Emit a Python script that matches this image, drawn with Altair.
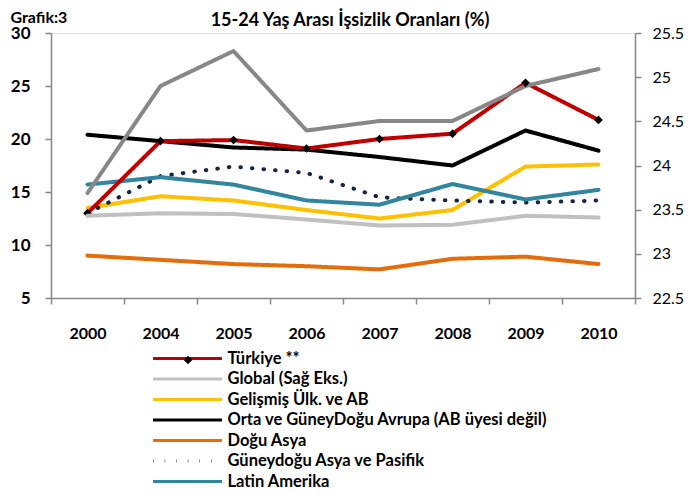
import altair as alt
import pandas as pd

years = ["2000", "2004", "2005", "2006", "2007", "2008", "2009", "2010"]

series_names = [
    "Türkiye **",
    "Global (Sağ Eks.)",
    "Gelişmiş Ülk. ve AB",
    "Orta ve GüneyDoğu Avrupa (AB üyesi değil)",
    "Doğu Asya",
    "Güneydoğu Asya ve Pasifik",
    "Latin Amerika",
    "Orta Doğu",
]
series_colors = ["#C00000", "#C0C0C0", "#FFC000", "#000000", "#E46C0A",
                 "#17243F", "#31859C", "#878787"]

turkiye = [13.0, 19.8, 19.9, 19.1, 20.0, 20.5, 25.3, 21.8]
global_right = [23.43, 23.46, 23.45, 23.39, 23.32, 23.33, 23.43, 23.41]
gelismis = [13.5, 14.6, 14.2, 13.3, 12.5, 13.3, 17.4, 17.6]
orta_avrupa = [20.4, 19.8, 19.2, 19.0, 18.3, 17.5, 20.8, 18.9]
dogu_asya = [9.0, 8.6, 8.2, 8.0, 7.7, 8.7, 8.9, 8.2]
guneydogu = [13.0, 16.5, 17.4, 16.8, 14.5, 14.2, 14.0, 14.2]
latin = [15.7, 16.4, 15.7, 14.2, 13.8, 15.75, 14.3, 15.2]
orta_dogu = [14.9, 25.0, 28.3, 20.8, 21.7, 21.7, 25.0, 26.6]

left_values = {
    "Gelişmiş Ülk. ve AB": gelismis,
    "Orta ve GüneyDoğu Avrupa (AB üyesi değil)": orta_avrupa,
    "Doğu Asya": dogu_asya,
    "Güneydoğu Asya ve Pasifik": guneydogu,
    "Latin Amerika": latin,
    "Türkiye **": turkiye,
    "Orta Doğu": orta_dogu,
}

rows = []
for order, (name, vals) in enumerate(left_values.items()):
    for y, v in zip(years, vals):
        rows.append({"year": y, "series": name, "value": v, "ord": order})
left_df = pd.DataFrame(rows)
right_df = pd.DataFrame({"year": years, "series": series_names[1], "value": global_right})
tr_df = pd.DataFrame({"year": years, "series": "Türkiye **", "value": turkiye})

FONT = "Lato"
AXIS_GRAY = "#868686"

dash_range = [[1, 0] if n != "Güneydoğu Asya ve Pasifik" else [0.5, 11.1] for n in series_names]

legend_common = dict(
    title=None, orient="none", legendX=128, legendY=317, direction="vertical",
    values=series_names[:7], symbolType="M-5,0H5", symbolSize=190,
    symbolStrokeWidth=3, padding=0, rowPadding=3.5, labelOffset=31.5,
    labelFont=FONT, labelFontSize=16.5, labelFontWeight="bold", labelColor="black",
    labelLimit=500,
)

x_scale = alt.Scale(type="band", paddingInner=0, paddingOuter=0)

x_enc = alt.X(
    "year:N",
    sort=years,
    scale=x_scale,
    axis=alt.Axis(
        title=None, labelAngle=0, tickBand="extent", tickSize=6,
        tickColor=AXIS_GRAY, domainColor=AXIS_GRAY, domainWidth=1.5, tickWidth=1.5,
        labelFont=FONT, labelFontSize=16, labelFontWeight="bold", labelColor="black",
        labelPadding=21,
    ),
)

color_enc = alt.Color(
    "series:N",
    scale=alt.Scale(domain=series_names, range=series_colors),
    legend=alt.Legend(**legend_common),
)

left_scale = alt.Scale(domain=[5, 30], nice=False, zero=False)

left_lines = alt.Chart(left_df).mark_line(strokeWidth=4, strokeCap="round", strokeJoin="round").encode(
    x=x_enc,
    y=alt.Y(
        "value:Q",
        scale=left_scale,
        axis=alt.Axis(
            orient="left", values=[5, 10, 15, 20, 25, 30], grid=False, tickSize=6, tickColor=AXIS_GRAY,
            domainColor=AXIS_GRAY, domainWidth=1.5, tickWidth=1.5,
            labelFont=FONT, labelFontSize=17, labelFontWeight="bold", labelColor="black",
            labelPadding=15,
            title="Grafik:3", titleAngle=0, titleAlign="left", titleBaseline="alphabetic",
            titleX=-41, titleY=-11, titleFont=FONT, titleFontSize=16, titleFontWeight="bold",
            titleColor="black",
        ),
    ),
    color=color_enc,
    strokeDash=alt.StrokeDash("series:N", scale=alt.Scale(domain=series_names, range=dash_range),
                              legend=alt.Legend(**legend_common)),
    order=alt.Order("ord:Q"),
)

tr_points = alt.Chart(tr_df).mark_point(filled=True, color="black", size=75, opacity=1).encode(
    x=alt.X("year:N", sort=years, scale=x_scale),
    y=alt.Y("value:Q", scale=left_scale),
    shape=alt.Shape(
        "series:N",
        scale=alt.Scale(domain=["Türkiye **"], range=["diamond"]),
        legend=alt.Legend(
            title=None, orient="none", legendX=130, legendY=320, padding=0,
            symbolSize=75, symbolFillColor="black", symbolStrokeColor="black",
            labelExpr="''", labelFontSize=14,
        ),
    ),
)

left = alt.layer(left_lines, tr_points)

right_line = alt.Chart(right_df).mark_line(strokeWidth=4, strokeCap="round", strokeJoin="round").encode(
    x=alt.X("year:N", sort=years, scale=x_scale),
    y=alt.Y(
        "value:Q",
        scale=alt.Scale(domain=[22.5, 25.5], nice=False, zero=False),
        axis=alt.Axis(
            orient="right", values=[22.5, 23, 23.5, 24, 24.5, 25, 25.5], format="~g", grid=False,
            tickSize=6, tickColor=AXIS_GRAY, domainColor=AXIS_GRAY, domainWidth=1.5, tickWidth=1.5,
            labelFont=FONT, labelFontSize=16, labelColor="black", labelPadding=11,
            title="15-24 Yaş Arası İşsizlik Oranları (%)", titleAngle=0, titleAlign="center",
            titleBaseline="alphabetic", titleX=-285.5, titleY=-8, titleFont=FONT,
            titleFontSize=18, titleFontWeight="bold", titleColor="black",
        ),
    ),
    color=color_enc,
)

chart = alt.layer(left, right_line).resolve_scale(y="independent").properties(
    width=584,
    height=265,
    autosize=alt.AutoSizeParams(type="none"),
    padding={"left": 43, "top": 25, "right": 52, "bottom": 193},
).configure_view(stroke=None).configure(background="white")

chart.save("out.html", embed_options={"renderer": "svg", "actions": False})
